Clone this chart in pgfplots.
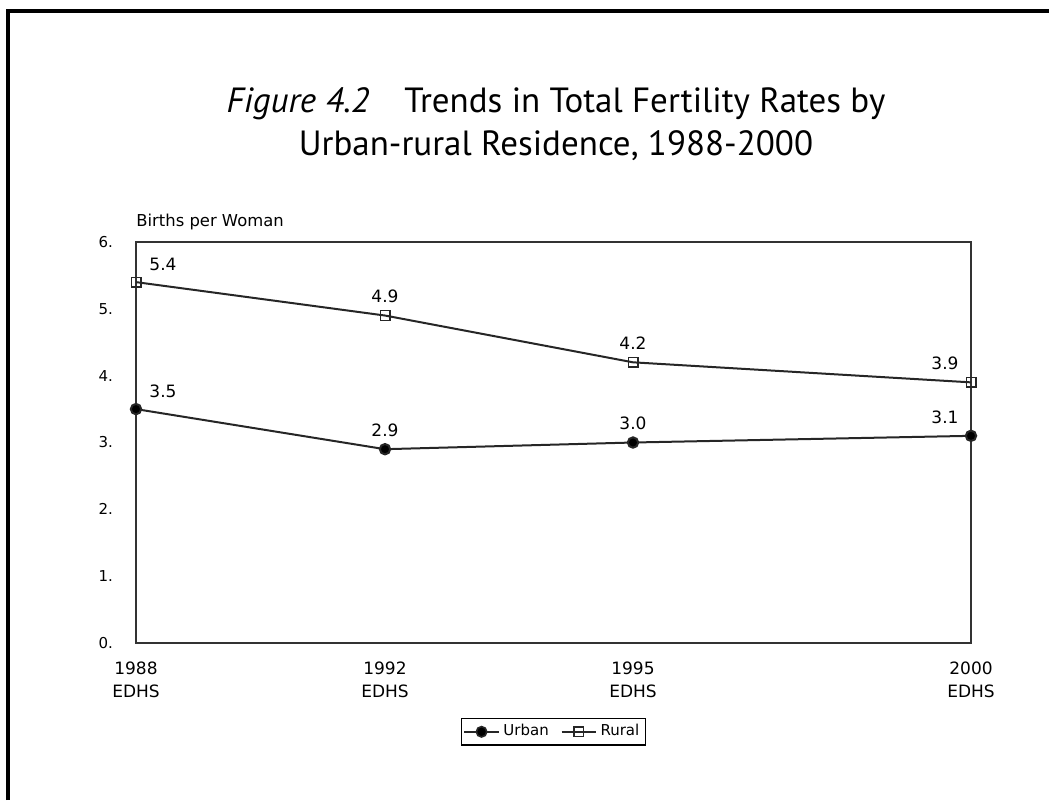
\documentclass[border=0pt]{standalone}
\usepackage{fontspec}
\setmainfont{DejaVu Sans}
\newfontfamily\titlefont{PT Sans}
\usepackage{pgfplots}
\pgfplotsset{compat=1.18}

\begin{document}
\begin{tikzpicture}
  % page is 1049x800 px at 0.5pt per px
  \useasboundingbox (0,0) rectangle (524.5pt,400pt);
  \draw[line width=2pt] (4pt,0) -- (4pt,394.5pt) -- (524.5pt,394.5pt);

  \node[align=center, font=\titlefont\fontsize{17.5}{21.5}\selectfont] at (278pt,338pt)
    {\textit{Figure 4.2}\quad Trends in Total Fertility Rates by\\Urban-rural Residence, 1988-2000};

  \begin{axis}[
      at={(68pt,78.5pt)}, anchor=south west,
      scale only axis,
      width=417.5pt, height=200.5pt,
      xmin=0, xmax=835, ymin=0, ymax=6,
      axis line style={line width=0.9pt, black!80},
      xtick={0,249,497,835},
      xticklabels={1988\\EDHS,1992\\EDHS,1995\\EDHS,2000\\EDHS},
      xticklabel style={align=center, font=\fontsize{8.5}{11.5}\selectfont, yshift=-6pt},
      ytick={0,1,2,3,4,5,6},
      yticklabels={0.,1.,2.,3.,4.,5.,6.},
      yticklabel style={font=\fontsize{7.5}{9}\selectfont, xshift=-8pt},
      major tick length=0pt,
      clip=false,
      legend style={at={(0.5,-0.187)}, anchor=north, legend columns=2,
        font=\fontsize{7.5}{9}\selectfont, draw=black, line width=0.6pt,
        inner sep=1pt, row sep=0pt,
        /tikz/every even column/.append style={column sep=4pt}},
      legend cell align=left,
      legend image post style={line width=0.8pt},
    ]
    \addplot[black!85, line width=1pt, mark=*, mark size=2.6pt,
             mark options={fill=black}]
      coordinates {(0,3.5) (249,2.9) (497,3.0) (835,3.1)};
    \addlegendentry{Urban}
    \addplot[black!85, line width=1pt, mark=square, mark size=2.4pt,
             mark options={fill=white, line width=0.7pt}]
      coordinates {(0,5.4) (249,4.9) (497,4.2) (835,3.9)};
    \addlegendentry{Rural}

    \begin{scope}[every node/.style={font=\fontsize{8.5}{9}\selectfont, anchor=south}]
      \node at (axis cs:27,5.46) {5.4};
      \node at (axis cs:249,4.98) {4.9};
      \node at (axis cs:497,4.28) {4.2};
      \node at (axis cs:809,3.98) {3.9};
      \node at (axis cs:27,3.56) {3.5};
      \node at (axis cs:249,2.98) {2.9};
      \node at (axis cs:497,3.08) {3.0};
      \node at (axis cs:809,3.18) {3.1};
    \end{scope}

    \node[anchor=south west, font=\fontsize{8.2}{9}\selectfont, inner sep=0pt]
      at (rel axis cs:0,1) [yshift=6pt] {Births per Woman};
  \end{axis}
\end{tikzpicture}
\end{document}
